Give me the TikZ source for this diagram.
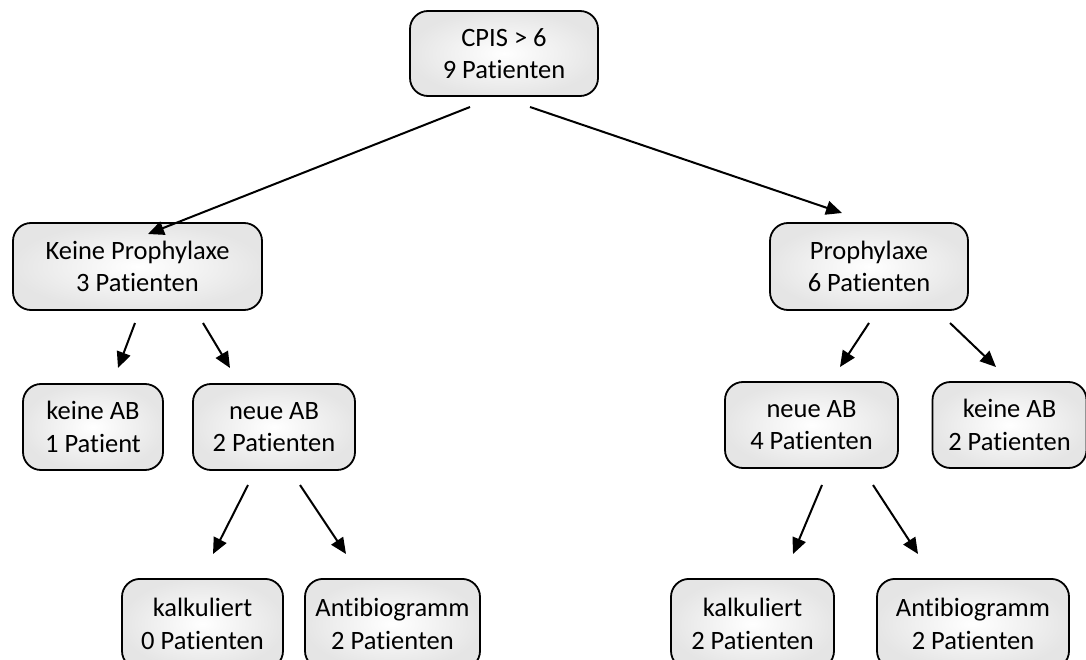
\documentclass[tikz,border=0pt]{standalone}
\usepackage{fontspec}
\setmainfont{Carlito}[Ligatures={NoCommon}]
\usetikzlibrary{arrows.meta}
\tikzset{
  box/.style={draw=black, line width=1.8pt, rounded corners=18pt,
    inner color=white, outer color=black!10, align=center,
    font=\fontsize{26.5}{32.5}\selectfont, inner sep=0pt},
  conn/.style={line width=2pt, -{Triangle[length=16pt,width=14pt]}},
}
\begin{document}
\begin{tikzpicture}[x=1pt,y=-1pt]
\useasboundingbox (0,0) rectangle (1086,660);
\clip (0,0) rectangle (1086,660);
\fill[white] (0,0) rectangle (1086,660);

\node[box, minimum width=188pt, minimum height=85pt] (top) at (504,53.5) {CPIS > 6\\9 Patienten};
\node[box, minimum width=249pt, minimum height=87pt] (kp) at (137.5,266.5) {Keine Prophylaxe\\3 Patienten};
\node[box, minimum width=198pt, minimum height=87pt] (p) at (869,266.5) {Prophylaxe\\6 Patienten};
\node[box, minimum width=140pt, minimum height=86pt] (kab1) at (93,427) {keine AB\\1 Patient};
\node[box, minimum width=162pt, minimum height=86pt] (nab2) at (274,427) {neue AB\\2 Patienten};
\node[box, minimum width=173pt, minimum height=86pt] (nab4) at (811.5,425) {neue AB\\4 Patienten};
\node[box, minimum width=154pt, minimum height=86pt] (kab2) at (1009.5,425) {keine AB\\2 Patienten};
\node[box, minimum width=161pt, minimum height=90pt, anchor=north] (kal0) at (202.5,578) {kalkuliert\\0 Patienten};
\node[box, minimum width=175pt, minimum height=90pt, anchor=north] (anl) at (392.5,578) {Antibiogramm\\2 Patienten};
\node[box, minimum width=163pt, minimum height=90pt, anchor=north] (kal2) at (752.5,578) {kalkuliert\\2 Patienten};
\node[box, minimum width=192pt, minimum height=90pt, anchor=north] (anr) at (973,578) {Antibiogramm\\2 Patienten};

% arrow end points
\coordinate (a1s) at (470,107); \coordinate (a1e) at (148,234);
\coordinate (a2s) at (530,107); \coordinate (a2e) at (842,213);
\coordinate (a3s) at (135,323); \coordinate (a3e) at (118,368);
\coordinate (a4s) at (203,323); \coordinate (a4e) at (230,368);
\coordinate (a5s) at (869,323); \coordinate (a5e) at (840,367);
\coordinate (a6s) at (950,323); \coordinate (a6e) at (996,367);
\coordinate (a7s) at (248,485); \coordinate (a7e) at (213,554);
\coordinate (a8s) at (300,485); \coordinate (a8e) at (346,554);
\coordinate (a9s) at (822,485); \coordinate (a9e) at (793,554);
\coordinate (a10s) at (873,485); \coordinate (a10e) at (918,554);

\draw[conn] (a1s) -- (a1e);
\draw[conn] (a2s) -- (a2e);
\draw[conn] (a3s) -- (a3e);
\draw[conn] (a4s) -- (a4e);
\draw[conn] (a5s) -- (a5e);
\draw[conn] (a6s) -- (a6e);
\draw[conn] (a7s) -- (a7e);
\draw[conn] (a8s) -- (a8e);
\draw[conn] (a9s) -- (a9e);
\draw[conn] (a10s) -- (a10e);
\end{tikzpicture}
\end{document}
